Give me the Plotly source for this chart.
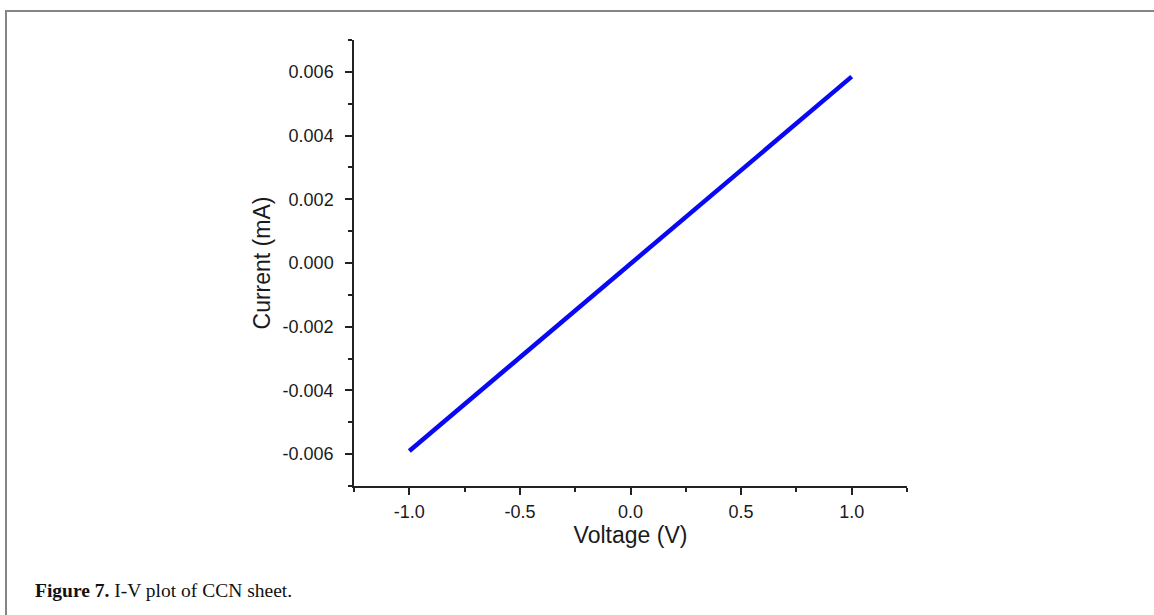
import plotly.graph_objects as go

# Data (I-V curve of CCN sheet)
voltage = [-1.0, -0.75, -0.5, -0.25, 0.0, 0.25, 0.5, 0.75, 1.0]
current = [-0.0059, -0.00443, -0.00295, -0.00147, 0.0, 0.00147, 0.00294, 0.0044, 0.00585]

x_ticks = [-1.0, -0.5, 0.0, 0.5, 1.0]
x_ticklabels = ["-1.0", "-0.5", "0.0", "0.5", "1.0"]
y_ticks = [-0.006, -0.004, -0.002, 0.0, 0.002, 0.004, 0.006]
y_ticklabels = ["-0.006", "-0.004", "-0.002", "0.000", "0.002", "0.004", "0.006"]

W, H = 1154, 615
L, R, T, B = 354, 247, 40, 129
pw, ph = W - L - R, H - T - B

def px(x):
    return (x - L) / pw

def py(y):
    return (H - B - y) / ph

fig = go.Figure()
fig.add_trace(go.Scatter(
    x=voltage, y=current, mode="lines",
    line=dict(color="#0808f4", width=4.5),
    showlegend=False, hoverinfo="skip",
))

axis_font = dict(family="Liberation Sans, Arial, sans-serif", size=18, color="#1a1a1a")
title_font = dict(family="Liberation Sans, Arial, sans-serif", size=23, color="#1a1a1a")

fig.update_layout(
    width=W, height=H,
    margin=dict(l=L, r=R, t=T, b=B),
    paper_bgcolor="white", plot_bgcolor="white",
    xaxis=dict(
        range=[-1.25, 1.25],
        tickvals=x_ticks, ticktext=x_ticklabels,
        ticks="outside", ticklen=7, tickwidth=1.5, tickcolor="#222",
        showline=True, linecolor="#222", linewidth=1.5,
        showgrid=False, zeroline=False,
        tickfont=axis_font, ticklabelstandoff=2,
        minor=dict(dtick=0.25, tick0=0, ticks="outside", ticklen=4, tickwidth=1.5, tickcolor="#222", showgrid=False),
        title=dict(text="Voltage (V)", font=title_font, standoff=1),
    ),
    yaxis=dict(
        range=[-0.007, 0.007],
        tickvals=y_ticks, ticktext=y_ticklabels,
        ticks="outside", ticklen=7, tickwidth=1.5, tickcolor="#222",
        showline=True, linecolor="#222", linewidth=1.5,
        showgrid=False, zeroline=False,
        tickfont=axis_font, ticklabelstandoff=8,
        minor=dict(dtick=0.001, tick0=0, ticks="outside", ticklen=4, tickwidth=1.5, tickcolor="#222", showgrid=False),
        title=dict(text="Current (mA)", font=title_font, standoff=6),
    ),
    shapes=[
        dict(type="rect", xref="paper", yref="paper",
             x0=px(6), x1=px(1170), y0=py(11), y1=py(640),
             line=dict(color="#858585", width=2), fillcolor="rgba(0,0,0,0)", layer="below"),
    ],
    annotations=[
        dict(text="<b>Figure 7.</b> I-V plot of CCN sheet.",
             xref="paper", yref="paper", x=px(33), y=py(590),
             xanchor="left", yanchor="middle", showarrow=False,
             font=dict(family="Liberation Serif, Times New Roman, serif", size=19.5, color="#111")),
    ],
)

fig.write_html(
    "out.html",
    config={"displayModeBar": False},
    post_script="document.body.style.margin='0';document.body.style.overflow='hidden';",
)
